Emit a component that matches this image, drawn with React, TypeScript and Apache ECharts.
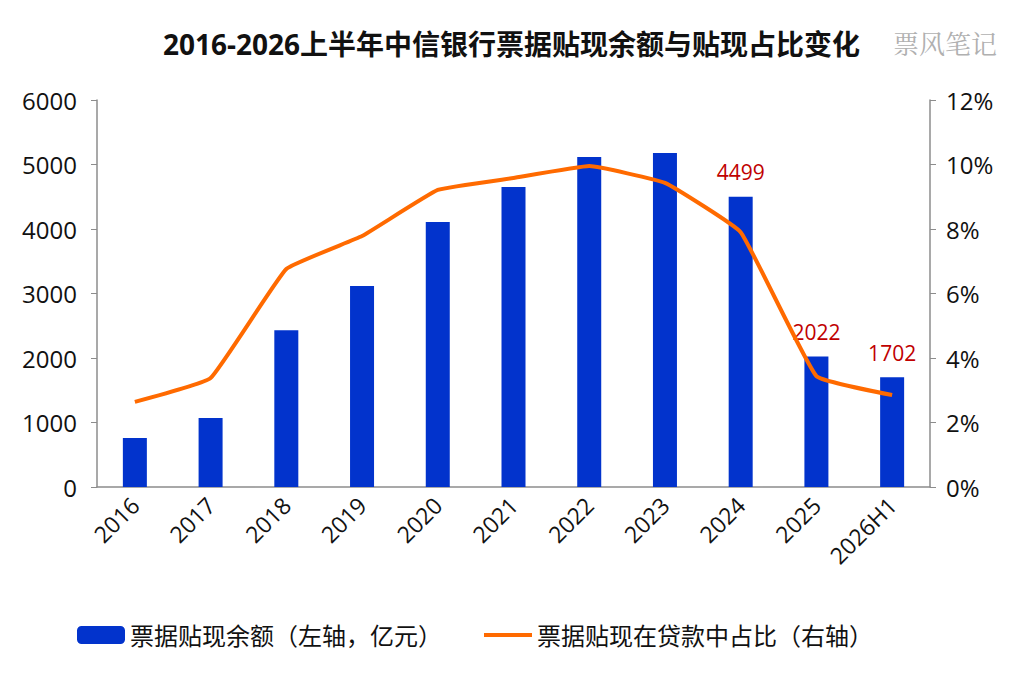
import { useEffect, useRef } from "react";
import * as echarts from "echarts";

const years = ["2016", "2017", "2018", "2019", "2020", "2021", "2022", "2023", "2024", "2025", "2026H1"];
const balance = [760, 1070, 2430, 3115, 4110, 4650, 5115, 5180, 4499, 2022, 1702];
const ratio = [2.64, 3.38, 6.76, 7.78, 9.21, 9.58, 9.95, 9.43, 7.9, 3.44, 2.85];
const labeled = ["2024", "2025", "2026H1"];

const FONT = "'Open Sans', 'Noto Sans CJK SC', sans-serif";

export default function App() {
    const ref = useRef<HTMLDivElement | null>(null);

    useEffect(() => {
        if (!ref.current) return;
        const chart = echarts.init(ref.current, undefined, { renderer: "svg" });
        const axisLine = { show: true, lineStyle: { color: "#8c8c8c", width: 1.5 } };
        chart.setOption({
            animation: false,
            backgroundColor: "#fff",
            textStyle: { fontFamily: FONT },
            title: {
                text: "2016-2026上半年中信银行票据贴现余额与贴现占比变化",
                left: 158,
                top: 25,
                textStyle: { fontSize: 28, fontWeight: "bold", color: "#111", fontFamily: FONT },
            },
            graphic: [
                {
                    type: "text",
                    left: 893,
                    top: 29,
                    style: { text: "票风笔记", fontSize: 26, fill: "#b0b0b0", fontFamily: "'Noto Serif CJK SC', serif" },
                },
            ],
            legend: {
                bottom: 26,
                left: 72,
                itemGap: 40,
                itemWidth: 48,
                itemHeight: 18,
                textStyle: { fontSize: 24, color: "#111", fontFamily: FONT },
                data: [
                    "票据贴现余额（左轴，亿元）",
                    { name: "票据贴现在贷款中占比（右轴）", itemStyle: { opacity: 0 }, lineStyle: { width: 4 } },
                ],
            },
            grid: { left: 97, right: 94, top: 100, bottom: 191 },
            xAxis: {
                type: "category",
                data: years,
                axisLine,
                axisTick: { show: false },
                axisLabel: { rotate: 45, fontSize: 23, color: "#111", margin: 14 },
            },
            yAxis: [
                {
                    type: "value",
                    min: 0,
                    max: 6000,
                    interval: 1000,
                    axisLine,
                    axisTick: { show: true, length: 6, lineStyle: { color: "#8c8c8c" } },
                    splitLine: { show: false },
                    axisLabel: { fontSize: 24, color: "#111", margin: 20, formatter: (v: number) => String(v) },
                },
                {
                    type: "value",
                    min: 0,
                    max: 12,
                    interval: 2,
                    axisLine,
                    axisTick: { show: true, length: 6, lineStyle: { color: "#8c8c8c" } },
                    splitLine: { show: false },
                    axisLabel: { fontSize: 24, color: "#111", margin: 16, formatter: "{value}%" },
                },
            ],
            series: [
                {
                    name: "票据贴现余额（左轴，亿元）",
                    type: "bar",
                    data: balance,
                    barWidth: 24,
                    itemStyle: { color: "#0233cc" },
                    label: {
                        show: true,
                        position: "top",
                        distance: 14,
                        fontSize: 21,
                        color: "#c00000",
                        formatter: (p: any) => (labeled.includes(p.name) ? String(p.value) : ""),
                    },
                },
                {
                    name: "票据贴现在贷款中占比（右轴）",
                    type: "line",
                    yAxisIndex: 1,
                    data: ratio,
                    smooth: 0.1,
                    symbol: "none",
                    lineStyle: { color: "#ff6a00", width: 4 },
                    itemStyle: { color: "#ff6a00" },
                },
            ],
        });
        return () => chart.dispose();
    }, []);

    return <div ref={ref} style={{ position: "fixed", left: 0, top: 0, width: 1024, height: 678 }} />;
}
